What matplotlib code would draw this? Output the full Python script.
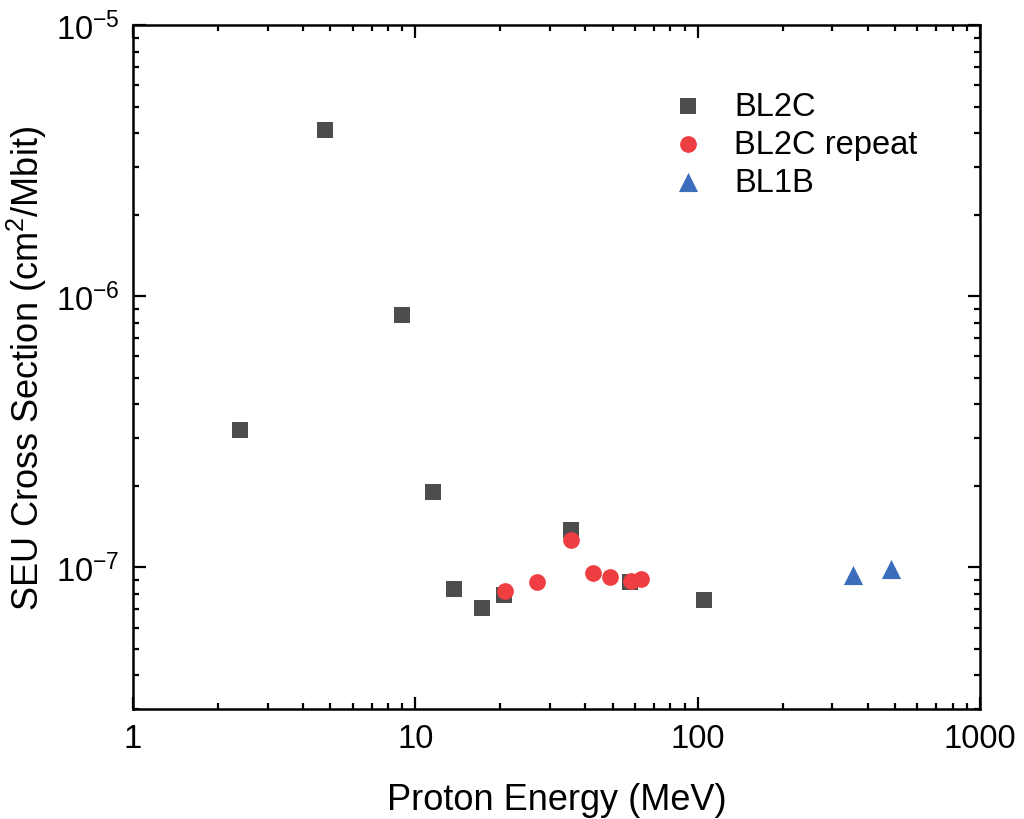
import matplotlib
matplotlib.use("Agg")
import matplotlib.pyplot as plt
from matplotlib.ticker import LogLocator, FixedLocator, FixedFormatter, NullFormatter

plt.rcParams['font.family'] = ['Liberation Sans', 'DejaVu Sans']
plt.rcParams['mathtext.fontset'] = 'custom'
plt.rcParams['mathtext.rm'] = 'Liberation Sans'
plt.rcParams['mathtext.it'] = 'Liberation Sans:italic'
plt.rcParams['axes.unicode_minus'] = False

# BL2C
bl2c_energy = [2.39, 4.79, 8.97, 11.5, 13.7, 17.2, 20.6, 35.6, 57.6, 105.4]
bl2c_xs = [3.2e-7, 4.1e-6, 8.55e-7, 1.9e-7, 8.3e-8, 7.06e-8, 7.9e-8, 1.37e-7, 8.8e-8, 7.6e-8]

# BL2C repeat
rep_energy = [20.7, 26.9, 35.6, 42.6, 48.9, 57.9, 63.0]
rep_xs = [8.18e-8, 8.8e-8, 1.26e-7, 9.53e-8, 9.19e-8, 8.88e-8, 9.04e-8]

# BL1B
bl1b_energy = [356, 483]
bl1b_xs = [9.34e-8, 9.83e-8]

fig = plt.figure(figsize=(10.24, 8.2), dpi=100)
ax = fig.add_axes([0.13, 0.134, 0.827, 0.834])

ax.scatter(bl2c_energy, bl2c_xs, marker='s', s=120, color='#4d4d4d', label='BL2C', zorder=3, linewidths=0)
ax.scatter(rep_energy, rep_xs, marker='o', s=145, color='#ee3e42', label='BL2C repeat', zorder=4, linewidths=0)
ax.scatter(bl1b_energy, bl1b_xs, marker='^', s=190, color='#3a6dbb', label='BL1B', zorder=4, linewidths=0)

ax.set_xscale('log')
ax.set_yscale('log')
ax.set_xlim(1, 1000)
ax.set_ylim(3e-8, 1e-5)

ax.xaxis.set_major_locator(FixedLocator([1, 10, 100, 1000]))
ax.xaxis.set_major_formatter(FixedFormatter(['1', '10', '100', '1000']))
ax.xaxis.set_minor_locator(LogLocator(base=10, subs=range(2, 10)))
ax.xaxis.set_minor_formatter(NullFormatter())
ax.yaxis.set_major_locator(LogLocator(base=10, numticks=10))
ax.yaxis.set_minor_locator(LogLocator(base=10, subs=range(2, 10), numticks=20))
ax.yaxis.set_minor_formatter(NullFormatter())

ax.tick_params(which='both', direction='in', top=True, right=True, width=1.6, labelsize=23.5, colors='black')
ax.tick_params(which='major', length=9, pad=10)
ax.tick_params(which='minor', length=4.5)
for sp in ax.spines.values():
    sp.set_linewidth(1.8)

ax.set_xlabel('Proton Energy (MeV)', fontsize=26, labelpad=20)
ax.set_ylabel('SEU Cross Section (cm$^2$/Mbit)', fontsize=26, labelpad=5)

ax.legend(loc='upper left', bbox_to_anchor=(0.59, 0.947), frameon=False, fontsize=23.5,
          handlelength=1.6, handletextpad=0.6, labelspacing=0.21, scatterpoints=1)

fig.savefig('out.png', dpi=100)
